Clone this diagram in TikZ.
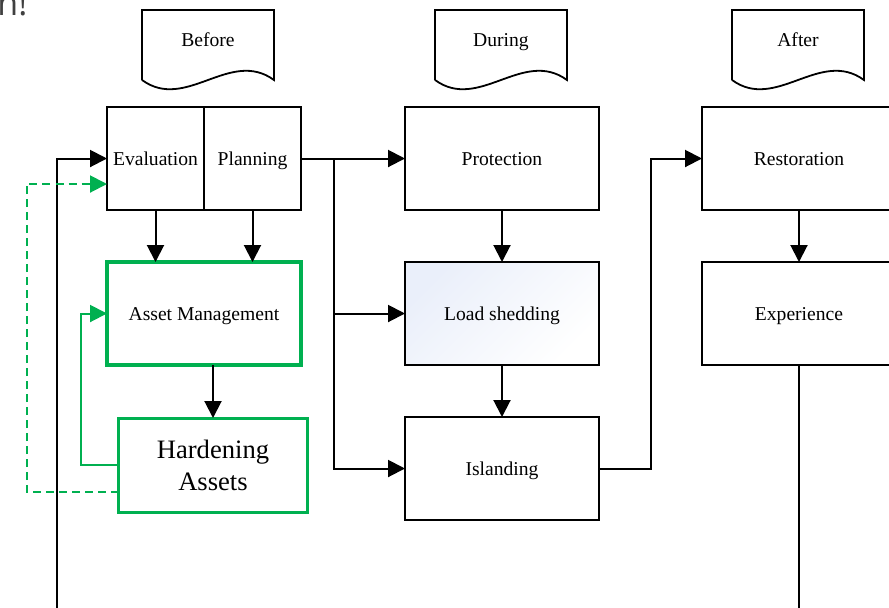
\documentclass[tikz,border=0pt]{standalone}
\usepackage{fontspec}
\setmainfont{Liberation Serif}
\newfontfamily\headfont{Open Sans}
\usetikzlibrary{positioning,arrows.meta}
\definecolor{hardgreen}{RGB}{0,176,80}
\definecolor{shedblue}{RGB}{234,239,250}

\begin{document}
\begin{tikzpicture}[x=0.5pt, y=-0.5pt, node distance=26pt and 52pt,
              every node/.style = {font=\fontsize{9.8}{12}\selectfont},
              txt/.style = {text height=7.8pt, text depth=1.2pt},
              box/.style = {shape=rectangle, draw, line width=0.9pt, txt,
                minimum width=97pt, minimum height=51.5pt, inner sep=0pt, outer sep=0pt},
              half/.style = {box, minimum width=48.5pt},
              greenbox/.style = {shape=rectangle, draw=hardgreen, line width=1.5pt,
                minimum width=94.5pt, minimum height=47pt, inner sep=0pt, outer sep=0pt,
                align=center, font=\fontsize{13.3}{16}\selectfont},
              arr/.style = {line width=1pt, -{Triangle[length=8.5pt,width=8.5pt]}},
              greenarr/.style = {arr, color=hardgreen}]
  \path[use as bounding box, clip] (0,0) rectangle (889,607);

  % cut-off heading
  \node[font=\headfont\fontsize{17}{20}\selectfont, text=black!75, anchor=base west,
        inner sep=0pt] (head) at (-3,15.5) {n!};

  % phases
  \foreach \x/\t/\n in {208/Before/before, 501/During/during, 798/After/after}{
    \draw[line width=0.9pt] (\x-66,80) -- (\x-66,10) -- (\x+66,10) -- (\x+66,80)
      .. controls (\x+22,48) and (\x-22,112) .. (\x-66,80);
    \node[txt] (doc-\n) at (\x,40) {\t};
  }

  % boxes
  \node[half] (eval) at (155.5,158.5) {Evaluation};
  \node[half, right=0pt of eval] (plan) {Planning};
  \node[box, right=of plan] (prot) {Protection};
  \node[box, below=of prot, top color=shedblue, bottom color=white, shading angle=45] (shed) {Load shedding};
  \node[box, below=of shed] (isl) {Islanding};
  \node[box, right=51.5pt of prot] (rest) {Restoration};
  \node[box, below=of rest] (exp) {Experience};
  \node[box, below=of eval.south east, draw=hardgreen, line width=1.6pt] (am) {Asset Management};
  \node[greenbox, below=26.5pt of am, xshift=4.5pt] (hard) {Hardening\\Assets};

  % connectors
  \coordinate (split) at ([xshift=16.5pt]plan.east);
  \draw[arr] (plan.east) -- (prot.west);
  \draw[arr] (split) |- (shed.west);
  \draw[arr] (split) |- (isl.west);
  \draw[arr] (eval.south) -- (eval.south |- am.north);
  \draw[arr] (plan.south) -- (plan.south |- am.north);
  \draw[arr] (am.south -| hard.north) -- (hard.north);
  \draw[arr] (prot) -- (shed);
  \draw[arr] (shed) -- (isl);
  \draw[arr] (isl.east) -- ++(52,0) |- (rest.west);
  \draw[arr] (rest) -- (exp);
  \coordinate (fb) at (57,640);
  \draw[arr] (exp.south) |- (fb) |- (eval.west);

  % hardening feedback
  \draw[greenarr] (hard.west) -- ++(-38,0) |- (am.west);
  \draw[greenarr, dash pattern=on 4pt off 2.5pt] ([yshift=-13.5pt]hard.west) -- ++(-92,0)
    |- ([yshift=-12.75pt]eval.west);
\end{tikzpicture}
\end{document}
